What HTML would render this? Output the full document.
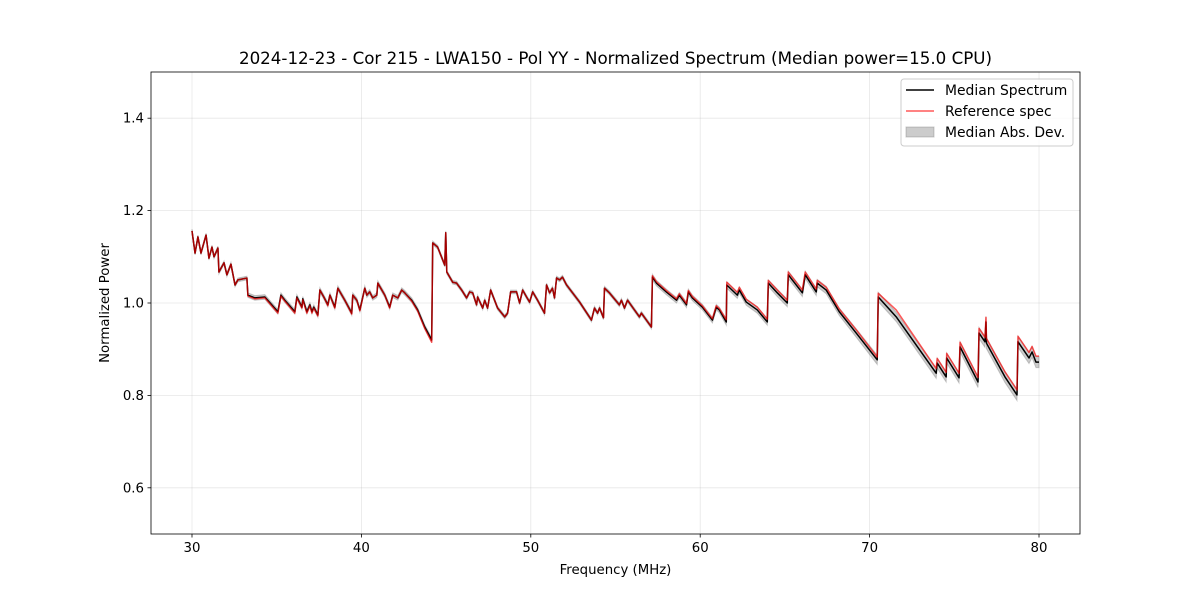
<!DOCTYPE html>
<html><head><meta charset="utf-8">
<style>
html,body{margin:0;padding:0;background:#fff;}
svg{display:block;font-family:"DejaVu Sans","Liberation Sans",sans-serif;}
</style></head>
<body>
<svg id="chart" width="1200" height="600" viewBox="0 0 1200 600"></svg>
<script>
const freqs = [30.00,30.18,30.35,30.53,30.83,31.00,31.18,31.30,31.53,31.59,
31.89,32.06,32.30,32.54,32.71,33.24,33.30,33.71,34.30,35.07,
35.25,35.48,36.07,36.19,36.49,36.54,36.78,36.96,37.08,37.19,
37.43,37.55,37.78,38.02,38.14,38.43,38.61,39.02,39.43,39.49,
39.73,39.91,40.20,40.32,40.49,40.67,40.91,40.97,41.38,41.67,
41.85,42.15,42.38,42.56,42.97,43.32,43.74,44.15,44.21,44.50,
44.92,44.98,45.04,45.39,45.62,45.92,46.21,46.39,46.57,46.80,
46.86,47.16,47.28,47.45,47.63,48.04,48.46,48.63,48.81,49.16,
49.34,49.52,49.75,49.93,50.11,50.40,50.81,50.93,51.11,51.28,
51.40,51.52,51.70,51.87,52.11,52.88,53.58,53.76,53.94,54.06,
54.29,54.35,54.64,55.23,55.35,55.53,55.71,56.41,56.53,57.12,
57.18,57.42,58.00,58.60,58.77,59.19,59.30,59.54,60.13,60.72,
60.95,61.13,61.54,61.57,62.19,62.31,62.72,63.37,63.96,64.02,
64.55,65.14,65.20,66.03,66.20,66.85,66.91,67.44,68.21,69.21,
70.45,70.51,71.57,73.93,73.99,74.52,74.55,75.28,75.34,76.40,
76.46,76.81,76.87,76.90,77.99,78.70,78.76,79.41,79.59,79.82,
80.00];
const medianValues = [1.156,1.108,1.143,1.108,1.147,1.097,1.121,1.100,1.119,1.067,
1.087,1.061,1.084,1.039,1.050,1.054,1.017,1.011,1.013,0.981,
1.017,1.006,0.981,1.013,0.991,1.009,0.981,0.996,0.981,0.991,
0.974,1.028,1.013,0.996,1.017,0.991,1.032,1.006,0.978,1.017,
1.006,0.985,1.032,1.017,1.024,1.011,1.017,1.043,1.017,0.991,
1.017,1.011,1.028,1.022,1.006,0.985,0.948,0.920,1.130,1.121,
1.082,1.152,1.067,1.045,1.043,1.028,1.011,1.024,1.022,0.996,
1.013,0.989,1.006,0.989,1.028,0.989,0.970,0.978,1.024,1.024,
1.000,1.028,1.013,1.002,1.024,1.006,0.978,1.039,1.022,1.032,
1.011,1.054,1.050,1.056,1.039,1.002,0.963,0.989,0.978,0.989,
0.968,1.032,1.022,0.996,1.006,0.989,1.006,0.970,0.978,0.948,
1.056,1.043,1.024,1.006,1.017,0.996,1.024,1.011,0.991,0.963,
0.991,0.985,0.959,1.039,1.017,1.028,1.002,0.985,0.959,1.043,
1.022,1.000,1.061,1.022,1.061,1.024,1.043,1.028,0.981,0.935,
0.877,1.013,0.970,0.848,0.870,0.840,0.881,0.838,0.905,0.829,
0.935,0.916,0.959,0.913,0.840,0.801,0.916,0.881,0.894,0.872,
0.872];
const referenceValues = [1.156,1.108,1.143,1.108,1.147,1.097,1.121,1.100,1.119,1.067,
1.087,1.061,1.084,1.039,1.050,1.054,1.015,1.009,1.011,0.978,
1.015,1.004,0.978,1.011,0.989,1.007,0.978,0.994,0.978,0.989,
0.972,1.028,1.013,0.994,1.017,0.989,1.032,1.006,0.976,1.017,
1.006,0.983,1.032,1.017,1.024,1.011,1.017,1.043,1.017,0.989,
1.017,1.011,1.028,1.022,1.004,0.983,0.945,0.915,1.130,1.121,
1.082,1.152,1.067,1.045,1.043,1.028,1.011,1.024,1.022,0.996,
1.013,0.989,1.006,0.989,1.028,0.989,0.970,0.978,1.024,1.024,
1.000,1.028,1.013,1.002,1.024,1.006,0.978,1.039,1.022,1.032,
1.011,1.054,1.050,1.056,1.039,1.002,0.963,0.989,0.978,0.989,
0.968,1.032,1.022,0.996,1.006,0.989,1.006,0.970,0.978,0.948,
1.059,1.046,1.027,1.009,1.020,0.999,1.027,1.014,0.994,0.966,
0.994,0.988,0.964,1.045,1.023,1.034,1.008,0.991,0.965,1.049,
1.028,1.006,1.067,1.028,1.067,1.030,1.049,1.034,0.987,0.942,
0.883,1.021,0.985,0.858,0.880,0.850,0.891,0.848,0.915,0.839,
0.945,0.926,0.969,0.923,0.851,0.812,0.928,0.893,0.906,0.885,
0.885];
const madValues = [0.004,0.004,0.004,0.004,0.004,0.004,0.004,0.004,0.004,0.004,
0.004,0.004,0.004,0.004,0.004,0.004,0.005,0.005,0.005,0.005,
0.005,0.005,0.005,0.005,0.005,0.005,0.005,0.005,0.005,0.005,
0.005,0.005,0.005,0.005,0.005,0.005,0.005,0.005,0.005,0.005,
0.005,0.005,0.005,0.005,0.005,0.005,0.005,0.005,0.005,0.005,
0.005,0.005,0.005,0.005,0.005,0.005,0.005,0.005,0.004,0.004,
0.004,0.004,0.004,0.004,0.004,0.004,0.004,0.004,0.004,0.004,
0.004,0.004,0.004,0.004,0.004,0.004,0.004,0.004,0.004,0.004,
0.004,0.004,0.004,0.004,0.004,0.004,0.004,0.004,0.004,0.004,
0.004,0.004,0.004,0.004,0.004,0.004,0.004,0.004,0.004,0.004,
0.004,0.004,0.004,0.004,0.004,0.004,0.004,0.004,0.004,0.004,
0.006,0.006,0.006,0.006,0.006,0.006,0.006,0.006,0.006,0.006,
0.006,0.006,0.007,0.007,0.007,0.007,0.007,0.007,0.007,0.007,
0.008,0.008,0.008,0.008,0.008,0.008,0.008,0.008,0.008,0.009,
0.010,0.010,0.010,0.011,0.011,0.011,0.011,0.011,0.011,0.012,
0.012,0.012,0.012,0.012,0.012,0.012,0.012,0.012,0.012,0.012,
0.012];
const xTicks = [30,40,50,60,70,80];
const yTicks = [0.6,0.8,1.0,1.2,1.4];
const yTickLabels = ["0.6","0.8","1.0","1.2","1.4"];

const NS = "http://www.w3.org/2000/svg";
const svg = document.getElementById('chart');
const L=151,R=1080,T=72,B=534, X0=27.58,X1=82.42,Y0=0.5,Y1=1.5;
function xs(f){return L+(f-X0)/(X1-X0)*(R-L);}
function ys(v){return B-(v-Y0)/(Y1-Y0)*(B-T);}
function mk(tag,attrs,name){const e=document.createElementNS(NS,tag);for(const k in attrs)e.setAttribute(k,attrs[k]);


svg.appendChild(e);return e;}
function txt(x,y,s,size,anchor,name,extra){const e=mk('text',Object.assign({x:x,y:y,'font-size':size,'text-anchor':anchor,fill:'#000'},extra||{}),name);e.textContent=s;return e;}

xTicks.forEach(t=>{mk('line',{x1:xs(t),x2:xs(t),y1:T,y2:B,stroke:'#b0b0b0','stroke-opacity':0.3,'stroke-width':0.8},'x-grid-line');});
yTicks.forEach(t=>{mk('line',{x1:L,x2:R,y1:ys(t),y2:ys(t),stroke:'#b0b0b0','stroke-opacity':0.3,'stroke-width':0.8},'y-grid-line');});

let up=freqs.map((f,i)=>xs(f)+','+ys(medianValues[i]+madValues[i]));
let dn=freqs.map((f,i)=>xs(f)+','+ys(medianValues[i]-madValues[i])).reverse();
mk('polygon',{points:up.concat(dn).join(' '),fill:'#808080','fill-opacity':0.4,stroke:'#808080','stroke-opacity':0.4,'stroke-width':1},'mad-band');
mk('polyline',{points:freqs.map((f,i)=>xs(f)+','+ys(medianValues[i])).join(' '),fill:'none',stroke:'#000','stroke-width':1.5,'stroke-linejoin':'round'},'median-spectrum-line');
mk('polyline',{points:freqs.map((f,i)=>xs(f)+','+ys(referenceValues[i])).join(' '),fill:'none',stroke:'#ff0000','stroke-opacity':0.65,'stroke-width':1.5,'stroke-linejoin':'round'},'reference-spectrum-line');

mk('rect',{x:L,y:T,width:R-L,height:B-T,fill:'none',stroke:'#000','stroke-width':0.8},'plot-frame');
xTicks.forEach(t=>{mk('line',{x1:xs(t),x2:xs(t),y1:B,y2:B+3.5,stroke:'#000','stroke-width':0.8},'x-tick');
txt(xs(t),B+18,String(t),13.3,'middle','x-tick-label');});
yTicks.forEach((t,i)=>{mk('line',{x1:L-3.5,x2:L,y1:ys(t),y2:ys(t),stroke:'#000','stroke-width':0.8},'y-tick');
txt(L-7,ys(t)+4.5,yTickLabels[i],13.3,'end','y-tick-label');});
txt((L+R)/2,64,'2024-12-23 - Cor 215 - LWA150 - Pol YY - Normalized Spectrum (Median power=15.0 CPU)',16.7,'middle','chart-title');
txt((L+R)/2,574,'Frequency (MHz)',13.3,'middle','x-axis-title');
txt(109,(T+B)/2,'Normalized Power',13.3,'middle','y-axis-title',{transform:'rotate(-90 109 '+((T+B)/2)+')'});

mk('rect',{x:901,y:79,width:172,height:67,rx:3,fill:'#fff','fill-opacity':0.8,stroke:'#ccc','stroke-width':1},'legend-box');
mk('line',{x1:906,x2:934,y1:90,y2:90,stroke:'#000','stroke-width':1.5},'legend-median-swatch');
txt(945,95,'Median Spectrum',13.9,'start','legend-median-label');
mk('line',{x1:906,x2:934,y1:111,y2:111,stroke:'#ff0000','stroke-opacity':0.65,'stroke-width':1.5},'legend-reference-swatch');
txt(945,116,'Reference spec',13.9,'start','legend-reference-label');
mk('rect',{x:906,y:127,width:28,height:10,fill:'#808080','fill-opacity':0.4,stroke:'#808080','stroke-opacity':0.4},'legend-mad-swatch');
txt(945,137,'Median Abs. Dev.',13.9,'start','legend-mad-label');
</script>
</body></html>
